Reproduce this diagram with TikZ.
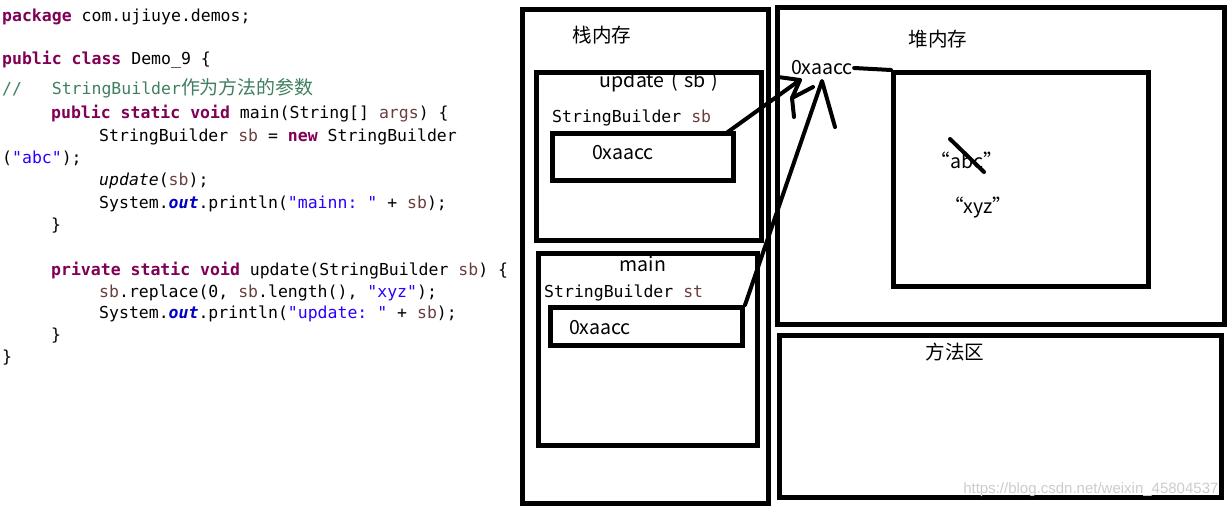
\documentclass[tikz,border=0pt]{standalone}
\usepackage{fontspec}
\setmonofont{DejaVu Sans Mono}
\newfontfamily\cjk[Scale=1.15]{Noto Sans CJK SC}
\newfontfamily\wmfont{Liberation Sans}
\usetikzlibrary{positioning}

\definecolor{kwcol}{RGB}{127,0,85}
\definecolor{strcol}{RGB}{42,0,255}
\definecolor{cmtcol}{RGB}{63,127,95}
\definecolor{varcol}{RGB}{106,62,62}
\definecolor{fldcol}{RGB}{0,0,192}
\newcommand{\jkw}[1]{\textcolor{kwcol}{\bfseries #1}}
\newcommand{\jstr}[1]{\textcolor{strcol}{#1}}
\newcommand{\jvar}[1]{\textcolor{varcol}{#1}}
\newcommand{\jfld}[1]{\textcolor{fldcol}{\bfseries\itshape #1}}

\tikzset{
	code/.style={font=\ttfamily\fontsize{16.5}{22}\selectfont, anchor=base west, inner sep=0pt},
	label/.style={font=\cjk\fontsize{17}{20}\selectfont, inner sep=1pt},
	frame/.style={draw, line width=5pt, inner sep=0pt, anchor=north west},
	pen/.style={line width=4pt, line cap=round, line join=round}
}

\begin{document}
\begin{tikzpicture}[x=1pt,y=-1pt]
		\useasboundingbox (0,0) rectangle (1228,508);

		% code
		\node[code] (l1)  at (2,22)   {\jkw{package} com.ujiuye.demos;};
		\node[code] (l3)  at (2,65)   {\jkw{public} \jkw{class} Demo\_9 \{};
		\node[code] (l4)  at (2,95)   {\textcolor{cmtcol}{//~~~StringBuilder{\cjk 作为方法的参数}}};
		\node[code] (l5)  at (51,119) {\jkw{public} \jkw{static} \jkw{void} main(String[] \jvar{args}) \{};
		\node[code] (l6)  at (99,142) {StringBuilder \jvar{sb} = \jkw{new} StringBuilder};
		\node[code] (l7)  at (2,163)  {(\jstr{"abc"});};
		\node[code] (l8)  at (99,185) {\textit{update}(\jvar{sb});};
		\node[code] (l9)  at (99,208) {System.\jfld{out}.println(\jstr{"mainn: "} + \jvar{sb});};
		\node[code] (l10) at (51,230) {\}};
		\node[code] (l12) at (51,275) {\jkw{private} \jkw{static} \jkw{void} update(StringBuilder \jvar{sb}) \{};
		\node[code] (l13) at (99,297) {\jvar{sb}.replace(0, \jvar{sb}.length(), \jstr{"xyz"});};
		\node[code] (l14) at (99,318) {System.\jfld{out}.println(\jstr{"update: "} + \jvar{sb});};
		\node[code] (l15) at (51,340) {\}};
		\node[code] (l16) at (2,362)  {\}};

		% stack
		\node[frame, minimum width=246, minimum height=494] (stack)     at (520,7)   {};
		\node[frame, minimum width=225, minimum height=168] (upframe)   at (534,70)  {};
		\node[frame, minimum width=181, minimum height=47]  (upval)     at (550,131) {};
		\node[frame, minimum width=219, minimum height=192] (mainframe) at (536,251) {};
		\node[frame, minimum width=192, minimum height=38]  (mainval)   at (548,305) {};

		\node[label] (stacklbl) at (602,35)  {栈内存};
		\node[label] (uplbl)    at (659,82)  {update\hspace{7pt}(\hspace{6pt}sb\hspace{6pt})};
		\node[code]  (upvar)    at (552,123) {StringBuilder \jvar{sb}};
		\node[label] (upaddr)   at (623,153) {0xaacc};
		\node[label] (mainlbl)  at (643,264) {main};
		\node[code]  (mainvar)  at (544,297) {StringBuilder \jvar{st}};
		\node[label] (mainaddr) at (600,328) {0xaacc};

		% heap and method area
		\node[frame, minimum width=447, minimum height=317] (heap)    at (775,5)   {};
		\node[frame, minimum width=255, minimum height=214] (heapobj) at (891,70)  {};
		\node[frame, minimum width=442, minimum height=162] (method)  at (777,333) {};

		\node[label] (heaplbl)  at (938,39)  {堆内存};
		\node[label] (heapaddr) at (822,68)  {0xaacc};
		\node[label] (abc)      at (967,160) {“abc”};
		\node[label] (xyz)      at (978,208) {“xyz”};
		\node[label] (methlbl)  at (955,352) {方法区};

		% references
		\coordinate (tip1) at (800,80);
		\coordinate (tip2) at (822,81);
		\draw[pen] ([xshift=-11pt,yshift=-3pt]upval.north east) -- (tip1) -- ++(-22,-3);
		\draw[pen] (tip1) -- ++(-8,18) -- ++(21,-11);
		\draw[pen] (tip1) ++(-8,18) -- ++(2,19);
		\draw[pen] (mainval.north east) -- (tip2) -- ++(13,46);
		\draw[pen] (heapaddr.east) -- (heapobj.north west);
		\draw[pen] (950,139) -- (984,172);

		\node[font=\wmfont\fontsize{15}{15}\selectfont, text=gray!40, anchor=east] (wmark) at (1222,490) {https://blog.csdn.net/weixin\_45804537};
	\end{tikzpicture}
\end{document}
